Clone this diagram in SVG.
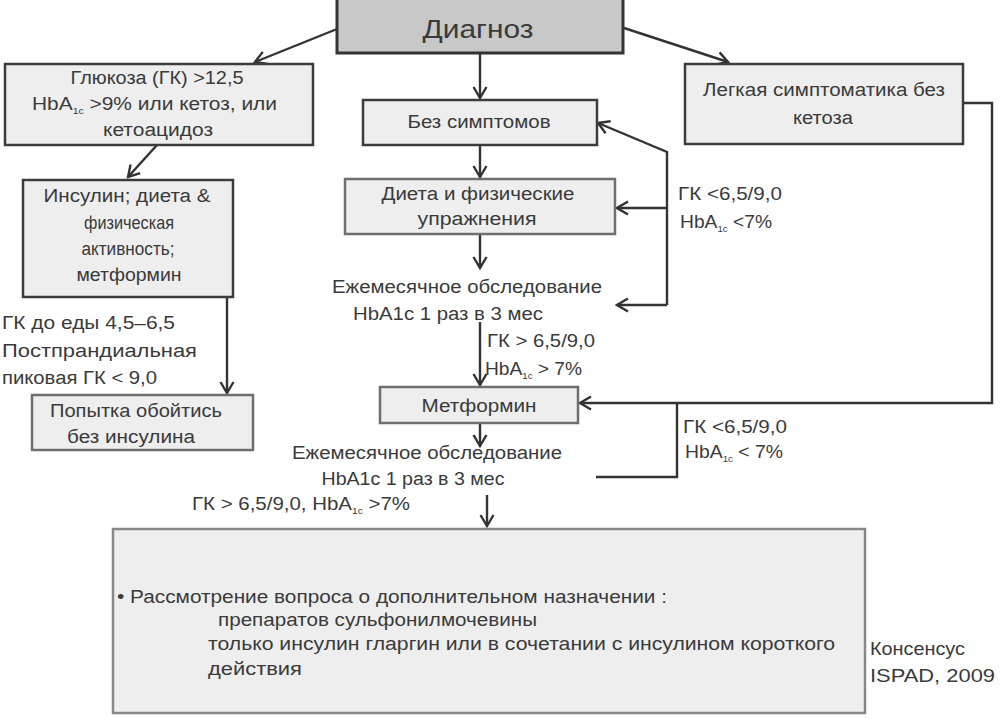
<svg xmlns="http://www.w3.org/2000/svg" width="1000" height="719" viewBox="0 0 1000 719">
<defs>
<marker id="arr" markerUnits="userSpaceOnUse" markerWidth="14" markerHeight="16" refX="12" refY="8" orient="auto" viewBox="0 0 14 16">
<path d="M1,1.5 L12,8 L1,14.5" fill="none" stroke="#333" stroke-width="2.4"/>
</marker>
</defs>
<style>
.box{fill:#eeeeee;stroke:#3c3c3c;stroke-width:2.5}
.boxg{fill:#eeeeee;stroke:#6e6e6e;stroke-width:2.5}
.t{font-family:"Liberation Sans",Arial,sans-serif;font-size:18px;fill:#3a3a3a}
.c{text-anchor:middle}
.s{font-size:9px}
.ln{fill:none;stroke:#333;stroke-width:2.4}
</style>
<rect width="1000" height="719" fill="#ffffff"/>

<g id="connectors">
<line class="ln" x1="337" y1="29" x2="255" y2="62" marker-end="url(#arr)"/>
<line class="ln" x1="480" y1="53" x2="480" y2="98" marker-end="url(#arr)"/>
<line class="ln" x1="624" y1="28" x2="728" y2="62" marker-end="url(#arr)"/>
<line class="ln" x1="157" y1="145" x2="128" y2="177" marker-end="url(#arr)"/>
<line class="ln" x1="480" y1="145" x2="480" y2="177" marker-end="url(#arr)"/>
<line class="ln" x1="480" y1="234" x2="480" y2="268" marker-end="url(#arr)"/>
<line class="ln" x1="480" y1="322" x2="480" y2="385" marker-end="url(#arr)"/>
<line class="ln" x1="227" y1="297" x2="227" y2="393" marker-end="url(#arr)"/>
<line class="ln" x1="480" y1="423" x2="480" y2="446" marker-end="url(#arr)"/>
<line class="ln" x1="487" y1="495" x2="487" y2="526" marker-end="url(#arr)"/>
<path class="ln" d="M667,305 L667,152 L598,123" marker-end="url(#arr)"/>
<line class="ln" x1="667" y1="208" x2="617" y2="208" marker-end="url(#arr)"/>
<line class="ln" x1="667" y1="305" x2="617" y2="305" marker-end="url(#arr)"/>
<path class="ln" d="M963,103 L992,103 L992,403 L580,403" marker-end="url(#arr)"/>
<path class="ln" d="M596,477 L677,477 L677,403"/>
</g>

<g id="diagnoz">
<rect x="337" y="-2" width="286" height="55" fill="#c8c8c8" stroke="#333" stroke-width="3"/>
<text class="t c" x="478" y="38" style="font-size:26px" textLength="111" lengthAdjust="spacingAndGlyphs">Диагноз</text>
</g>

<g id="glukoza">
<rect class="box" x="5" y="64" width="308" height="81"/>
<text class="t c" x="157" y="84" textLength="173" lengthAdjust="spacingAndGlyphs">Глюкоза (ГК) &gt;12,5</text>
<text class="t" x="32" y="110" textLength="245" lengthAdjust="spacingAndGlyphs">HbA<tspan class="s" dy="4">1c</tspan><tspan dy="-4">   &gt;9% или кетоз, или</tspan></text>
<text class="t c" x="158" y="136" textLength="110" lengthAdjust="spacingAndGlyphs">кетоацидоз</text>
</g>

<g id="bez">
<rect class="box" x="363" y="100" width="234" height="45"/>
<text class="t c" x="479" y="128" textLength="143" lengthAdjust="spacingAndGlyphs">Без симптомов</text>
</g>

<g id="legkaya">
<rect class="box" x="685" y="64" width="278" height="80"/>
<text class="t c" x="824" y="96" textLength="242" lengthAdjust="spacingAndGlyphs">Легкая симптоматика без</text>
<text class="t c" x="823" y="124" textLength="60" lengthAdjust="spacingAndGlyphs">кетоза</text>
</g>

<g id="insulin">
<rect class="box" x="23" y="180" width="210" height="117"/>
<text class="t c" x="127" y="202" textLength="167" lengthAdjust="spacingAndGlyphs">Инсулин; диета &amp;</text>
<text class="t c" x="129" y="229" textLength="90" lengthAdjust="spacingAndGlyphs">физическая</text>
<text class="t c" x="128" y="255" textLength="93" lengthAdjust="spacingAndGlyphs">активность;</text>
<text class="t c" x="129" y="281" textLength="105" lengthAdjust="spacingAndGlyphs">метформин</text>
</g>

<g id="gk-label-left">
<text class="t" x="2" y="329" textLength="173" lengthAdjust="spacingAndGlyphs">ГК до еды 4,5–6,5</text>
<text class="t" x="2" y="357" textLength="195" lengthAdjust="spacingAndGlyphs">Постпрандиальная</text>
<text class="t" x="2" y="384" textLength="155" lengthAdjust="spacingAndGlyphs">пиковая ГК &lt; 9,0</text>
</g>

<g id="popytka">
<rect class="boxg" x="32" y="395" width="221" height="55"/>
<text class="t c" x="136" y="417" textLength="172" lengthAdjust="spacingAndGlyphs">Попытка обойтись</text>
<text class="t c" x="131" y="443" textLength="128" lengthAdjust="spacingAndGlyphs">без инсулина</text>
</g>

<g id="dieta">
<rect class="boxg" x="345" y="179" width="270" height="55"/>
<text class="t c" x="478" y="200" textLength="193" lengthAdjust="spacingAndGlyphs">Диета и физические</text>
<text class="t c" x="477" y="225" textLength="119" lengthAdjust="spacingAndGlyphs">упражнения</text>
</g>

<g id="monitoring1">
<text class="t c" x="467" y="293" textLength="270" lengthAdjust="spacingAndGlyphs">Ежемесячное обследование</text>
<text class="t c" x="448" y="320" textLength="190" lengthAdjust="spacingAndGlyphs">HbA1c 1 раз в 3 мес</text>
</g>

<g id="gk-label-mid">
<text class="t" x="487" y="347" textLength="108" lengthAdjust="spacingAndGlyphs">ГК &gt; 6,5/9,0</text>
<text class="t" x="485" y="375" textLength="97" lengthAdjust="spacingAndGlyphs">HbA<tspan class="s" dy="4">1c</tspan><tspan dy="-4"> &gt; 7%</tspan></text>
</g>

<g id="gk-label-right-top">
<text class="t" x="678" y="200" textLength="104" lengthAdjust="spacingAndGlyphs">ГК &lt;6,5/9,0</text>
<text class="t" x="680" y="228" textLength="92" lengthAdjust="spacingAndGlyphs">HbA<tspan class="s" dy="4">1c</tspan><tspan dy="-4"> &lt;7%</tspan></text>
</g>

<g id="metformin">
<rect class="boxg" x="380" y="387" width="198" height="36"/>
<text class="t c" x="479" y="412" textLength="115" lengthAdjust="spacingAndGlyphs">Метформин</text>
</g>

<g id="monitoring2">
<text class="t c" x="427" y="459" textLength="270" lengthAdjust="spacingAndGlyphs">Ежемесячное обследование</text>
<text class="t c" x="413" y="485" textLength="183" lengthAdjust="spacingAndGlyphs">HbA1c 1 раз в 3 мес</text>
</g>

<g id="gk-label-bottom">
<text class="t" x="192" y="510" textLength="218" lengthAdjust="spacingAndGlyphs">ГК &gt; 6,5/9,0,  HbA<tspan class="s" dy="4">1c</tspan><tspan dy="-4"> &gt;7%</tspan></text>
</g>

<g id="gk-label-right-bottom">
<text class="t" x="683" y="433" textLength="104" lengthAdjust="spacingAndGlyphs">ГК &lt;6,5/9,0</text>
<text class="t" x="685" y="458" textLength="98" lengthAdjust="spacingAndGlyphs">HbA<tspan class="s" dy="4">1c</tspan><tspan dy="-4"> &lt; 7%</tspan></text>
</g>

<g id="final">
<rect x="113" y="529" width="752" height="184" fill="#eeeeee" stroke="#888" stroke-width="2.5"/>
<text class="t" x="117" y="603" textLength="550" lengthAdjust="spacingAndGlyphs">• Рассмотрение вопроса о дополнительном назначении :</text>
<text class="t" x="218" y="626" textLength="319" lengthAdjust="spacingAndGlyphs">препаратов сульфонилмочевины</text>
<text class="t" x="208" y="650" textLength="627" lengthAdjust="spacingAndGlyphs">только инсулин гларгин или в сочетании с  инсулином короткого</text>
<text class="t" x="208" y="675" textLength="94" lengthAdjust="spacingAndGlyphs">действия</text>
</g>

<g id="consensus">
<text class="t" x="870" y="655" style="font-size:19px" textLength="95" lengthAdjust="spacingAndGlyphs">Консенсус</text>
<text class="t" x="870" y="682" style="font-size:19px" textLength="125" lengthAdjust="spacingAndGlyphs">ISPAD, 2009</text>
</g>
</svg>
